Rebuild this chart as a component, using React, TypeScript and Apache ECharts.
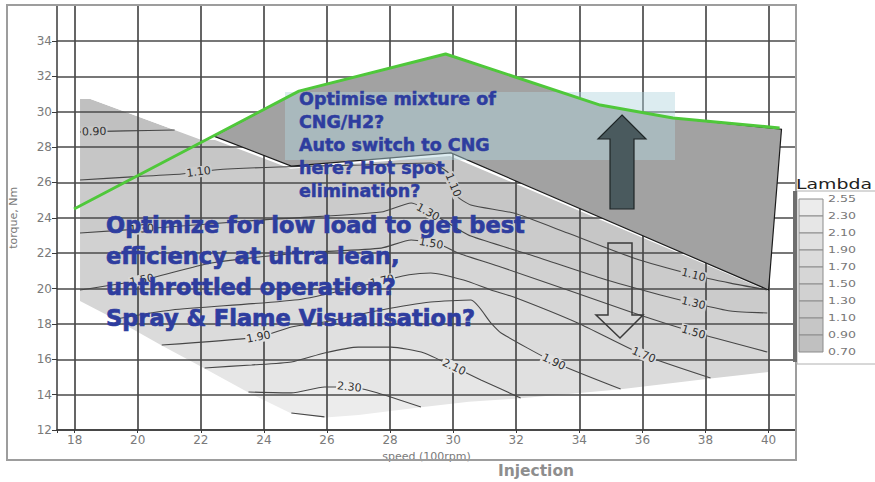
import { useEffect, useRef } from "react";
import * as echarts from "echarts";

// Axis extents: engine speed in 100 rpm, torque in Nm
const SPEED_MIN = 17.44;
const SPEED_MAX = 40.87;
const TORQUE_MIN = 12;
const TORQUE_MAX = 36;

// Lambda levels of the key, lowest first
const lambdaLevels = [0.7, 0.9, 1.1, 1.3, 1.5, 1.7, 1.9, 2.1, 2.3, 2.55];
// Grey of each band between two consecutive levels
const bandShades = ["#c0c0c0", "#c6c6c6", "#cbcbcb", "#d1d1d1", "#d6d6d6", "#dbdbdb", "#e0e0e0", "#e6e6e6", "#ececec"];

// Outline of the measured area, [speed, torque]
const mapUpperEdge = [[18.17, 30.72], [18.5, 30.72], [20.2, 29.6], [22.0, 28.42], [22.45, 28.4], [24.85, 26.78], [29.9, 27.5], [40.0, 19.85]];
const mapLowerEdge = [[18.17, 19.3], [19.3, 18.25], [20.76, 16.78], [22.12, 15.48], [23.51, 14.12], [24.87, 12.93], [25.95, 12.7], [27.0, 12.85], [28.98, 13.28], [30.5, 13.6], [32.14, 13.79], [33.4, 14.0], [35.31, 14.3], [38.16, 14.92], [40.0, 15.28]];

// Iso-lambda lines, [speed, torque]
const iso090 = [[18.17, 28.86], [19.6, 28.92], [21.17, 28.97]];
const iso110 = [[18.17, 26.14], [19.8, 26.32], [21.39, 26.48], [22.44, 26.71], [24.46, 26.88], [27.08, 26.99], [29.29, 27.1], [29.92, 26.42], [30.08, 25.29], [30.56, 24.73], [31.92, 24.27], [33.63, 23.14], [35.72, 21.73], [37.62, 20.77], [38.79, 20.31], [39.96, 19.92]];
const iso130 = [[18.17, 23.14], [20.54, 23.43], [23.92, 23.88], [27.72, 24.33], [28.67, 24.84], [29.78, 23.76], [30.56, 22.97], [32.46, 21.9], [34.67, 20.6], [36.57, 19.64], [37.62, 19.18], [38.79, 18.73], [39.96, 18.62]];
const iso150 = [[18.17, 19.92], [20.13, 20.48], [22.34, 21.45], [25.19, 22.01], [27.72, 22.29], [28.67, 22.75], [29.62, 22.46], [30.15, 22.01], [31.51, 21.22], [33.63, 19.92], [35.63, 18.67], [37.62, 17.54], [39.96, 16.41]];
const iso170 = [[19.3, 18.28], [21.08, 18.79], [25.19, 19.4], [27.8, 20.45], [28.6, 20.78], [29.29, 20.88], [30.33, 20.48], [31.2, 19.92], [31.92, 19.52], [33.95, 18.05], [36.04, 16.24], [38.16, 14.94]];
const iso190 = [[20.76, 16.81], [23.83, 17.26], [24.87, 17.83], [25.92, 18.11], [27.72, 18.79], [29.29, 19.24], [30.56, 19.35], [31.2, 18.05], [31.52, 17.49], [33.19, 15.85], [35.31, 14.32]];
const iso210 = [[22.12, 15.51], [23.61, 15.68], [24.87, 15.85], [25.92, 16.36], [26.99, 16.69], [28.03, 16.69], [29.08, 16.36], [30.03, 15.56], [30.88, 14.83], [32.14, 13.81]];
const iso230 = [[23.51, 14.15], [24.87, 14.1], [25.92, 14.43], [26.71, 14.43], [27.5, 14.15], [28.98, 13.3]];
const iso250 = [[24.87, 12.96], [25.92, 12.74]];

// Where the iso-lines carry their value, [lambda, speed]
const isoLabelSpots = [
  [0.9, 18.62], [1.1, 21.93], [1.1, 30.0], [1.1, 37.62],
  [1.3, 20.13], [1.3, 29.2], [1.3, 37.62],
  [1.5, 20.13], [1.5, 29.3], [1.5, 37.62],
  [1.7, 27.75], [1.7, 36.04],
  [1.9, 23.83], [1.9, 33.19],
  [2.1, 30.03], [2.3, 26.71],
];

// Full-load limit (green) and the high-load region above the lean map
const fullLoadLimit = [[17.98, 24.5], [25.11, 31.17], [29.76, 33.27], [34.66, 30.38], [36.97, 29.65], [40.35, 29.08]];
const highLoadZone = [[22.41, 28.62], [25.11, 31.17], [29.76, 33.27], [34.66, 30.38], [36.97, 29.65], [40.41, 29.01], [40.0, 19.92], [29.93, 27.67], [24.87, 26.93]];

const isoLines = [
  { level: 0.9, points: iso090 },
  { level: 1.1, points: iso110 },
  { level: 1.3, points: iso130 },
  { level: 1.5, points: iso150 },
  { level: 1.7, points: iso170 },
  { level: 1.9, points: iso190 },
  { level: 2.1, points: iso210 },
  { level: 2.3, points: iso230 },
  { level: 2.5, points: iso250 },
];

const TEXT_BLUE = "#2e3d9f";

function torqueOn(points: number[][], speed: number) {
  for (let i = 0; i < points.length - 1; i++) {
    const [x0, y0] = points[i];
    const [x1, y1] = points[i + 1];
    if (speed >= x0 && speed <= x1) return y0 + ((y1 - y0) * (speed - x0)) / (x1 - x0);
  }
  return speed < points[0][0] ? points[0][1] : points[points.length - 1][1];
}

function buildOption() {
  const lo = [SPEED_MIN - 1, TORQUE_MIN - 1];

  // filled lambda bands: each iso-line shades everything on its lean side
  const renderBands = (_p: any, api: any) => {
    const c = (p: number[]) => api.coord(p);
    const outline = [...mapUpperEdge, ...mapLowerEdge.slice().reverse()];
    const children: any[] = [
      { type: "polygon", shape: { points: outline.map(c) }, style: { fill: bandShades[0] } },
    ];
    isoLines.forEach((line) => {
      const idx = lambdaLevels.indexOf(line.level);
      if (idx < 0 || idx >= bandShades.length) return;
      const pts = line.points;
      const first = pts[0];
      const last = pts[pts.length - 1];
      const poly = [
        [SPEED_MIN - 1, lo[1]],
        [SPEED_MIN - 1, first[1]],
        ...pts,
        [SPEED_MAX + 1, last[1]],
        [SPEED_MAX + 1, lo[1]],
      ];
      children.push({ type: "polygon", shape: { points: poly.map(c) }, style: { fill: bandShades[idx] } });
    });
    return { type: "group", children };
  };

  // white outside the measured outline
  const renderMask = (_p: any, api: any) => {
    const c = (p: number[]) => api.coord(p);
    const u0 = mapUpperEdge[0];
    const uN = mapUpperEdge[mapUpperEdge.length - 1];
    const l0 = mapLowerEdge[0];
    const lN = mapLowerEdge[mapLowerEdge.length - 1];
    const top = [[SPEED_MIN - 1, TORQUE_MAX + 1], [SPEED_MIN - 1, u0[1]], ...mapUpperEdge, [SPEED_MAX + 1, uN[1]], [SPEED_MAX + 1, TORQUE_MAX + 1]];
    const bottom = [[SPEED_MIN - 1, TORQUE_MIN - 1], [SPEED_MIN - 1, l0[1]], ...mapLowerEdge, [SPEED_MAX + 1, lN[1]], [SPEED_MAX + 1, TORQUE_MIN - 1]];
    const left = [[SPEED_MIN - 1, TORQUE_MIN - 1], [u0[0], TORQUE_MIN - 1], [u0[0], TORQUE_MAX + 1], [SPEED_MIN - 1, TORQUE_MAX + 1]];
    const right = [[uN[0], TORQUE_MIN - 1], [SPEED_MAX + 1, TORQUE_MIN - 1], [SPEED_MAX + 1, TORQUE_MAX + 1], [uN[0], TORQUE_MAX + 1]];
    return {
      type: "group",
      children: [top, bottom, left, right].map((poly) => ({
        type: "polygon",
        shape: { points: poly.map(c) },
        style: { fill: "#ffffff" },
      })),
    };
  };

  // value labels sitting on the iso-lines, turned along the line
  const renderIsoLabels = (_p: any, api: any) => {
    const children: any[] = [];
    isoLabelSpots.forEach(([level, speed]) => {
      const line = isoLines.find((l) => l.level === level);
      if (!line) return;
      const pos = api.coord([speed, torqueOn(line.points, speed)]);
      const a = api.coord([speed - 0.15, torqueOn(line.points, speed - 0.15)]);
      const b = api.coord([speed + 0.15, torqueOn(line.points, speed + 0.15)]);
      const ang = Math.atan2(b[1] - a[1], b[0] - a[0]);
      const idx = Math.max(0, Math.min(bandShades.length - 1, lambdaLevels.indexOf(level)));
      children.push({
        type: "text",
        x: pos[0],
        y: pos[1],
        rotation: -ang,
        style: {
          text: level.toFixed(2),
          fill: "#2f2f2f",
          font: '11px "DejaVu Sans"',
          align: "center",
          verticalAlign: "middle",
          backgroundColor: bandShades[idx],
          padding: [0, 1],
        },
      });
    });
    return { type: "group", children };
  };

  const renderZone = (_p: any, api: any) => ({
    type: "polygon",
    shape: { points: highLoadZone.map((p) => api.coord(p)) },
    style: { fill: "#a2a2a2", stroke: "#1c1c1c", lineWidth: 1.2 },
  });

  const axisGrey = "#7a7a7a";
  const lineDark = "#3a3a3a";
  const isEven = (v: number) => Math.abs(v - Math.round(v)) < 1e-6 && Math.round(v) % 2 === 0;

  // key for the lambda bands
  const legendTop = 199;
  const rowH = 17;
  const legendEls: any[] = [
    { type: "rect", z: 40, shape: { x: 797, y: 191, width: 80, height: 173 }, style: { fill: "#ffffff", stroke: "#b0b0b0", lineWidth: 1 } },
    { type: "rect", z: 41, shape: { x: 793, y: 191, width: 4, height: 171 }, style: { fill: "#6e6e6e" } },
    { type: "text", z: 41, x: 796, y: 184, scaleX: 1.35, style: { text: "Lambda", fill: "#222222", font: '14px "DejaVu Sans"', align: "left", verticalAlign: "middle" } },
  ];
  for (let r = 0; r < bandShades.length; r++) {
    const band = bandShades.length - 1 - r;
    legendEls.push({
      type: "rect",
      z: 41,
      shape: { x: 799, y: legendTop + r * rowH, width: 24, height: rowH },
      style: { fill: bandShades[band], stroke: "#8c8c8c", lineWidth: 1 },
    });
  }
  for (let r = 0; r < lambdaLevels.length; r++) {
    const lvl = lambdaLevels[lambdaLevels.length - 1 - r];
    legendEls.push({
      type: "text",
      z: 41,
      x: 828,
      y: legendTop + r * rowH,
      scaleX: 1.4,
      style: { text: lvl.toFixed(2), fill: "#777777", font: '9px "DejaVu Sans"', align: "left", verticalAlign: "middle" },
    });
  }

  return {
    animation: false,
    grid: { left: 55, right: 79, top: 5.7, bottom: 52, containLabel: false },
    xAxis: {
      type: "value",
      min: SPEED_MIN,
      max: SPEED_MAX,
      splitNumber: 12,
      minInterval: 2,
      maxInterval: 2,
      z: 3,
      axisLine: { show: true, lineStyle: { color: lineDark, width: 1.5 } },
      axisTick: { show: true, length: 3, lineStyle: { color: lineDark } },
      axisLabel: {
        color: axisGrey,
        fontSize: 12,
        fontFamily: "DejaVu Sans",
        margin: 4,
        formatter: (v: number) => (isEven(v) ? String(Math.round(v)) : ""),
      },
      splitLine: { show: true, showMinLine: false, showMaxLine: false, lineStyle: { color: "#4a4a4a", width: 1.7 } },
      name: "speed (100rpm)",
      nameLocation: "middle",
      nameGap: 13,
      nameTextStyle: { color: axisGrey, fontSize: 11, fontFamily: "DejaVu Sans" },
    },
    yAxis: {
      type: "value",
      min: TORQUE_MIN,
      max: TORQUE_MAX,
      interval: 2,
      z: 3,
      axisLine: { show: true, lineStyle: { color: lineDark, width: 1.5 } },
      axisTick: { show: true, length: 5, lineStyle: { color: lineDark } },
      axisLabel: {
        color: axisGrey,
        fontSize: 12,
        fontFamily: "DejaVu Sans",
        margin: 5,
        formatter: (v: number) => (v >= TORQUE_MAX ? "" : String(v)),
      },
      splitLine: { show: true, showMaxLine: false, lineStyle: { color: "#4a4a4a", width: 1.7 } },
      name: "torque, Nm",
      nameLocation: "middle",
      nameGap: 38,
      nameRotate: 90,
      nameTextStyle: { color: axisGrey, fontSize: 11, fontFamily: "DejaVu Sans" },
    },
    series: [
      { type: "custom", name: "bands", z: 1, clip: true, silent: true, renderItem: renderBands, data: [[SPEED_MIN, TORQUE_MIN]] },
      { type: "custom", name: "outside", z: 2, clip: true, silent: true, renderItem: renderMask, data: [[SPEED_MIN, TORQUE_MIN]] },
      ...isoLines.map((l) => ({
        type: "line",
        name: "lambda " + l.level.toFixed(2),
        z: 4,
        silent: true,
        showSymbol: false,
        smooth: 0.2,
        data: l.points,
        lineStyle: { color: "#474747", width: 1.1 },
      })),
      { type: "custom", name: "iso labels", z: 5, clip: true, silent: true, renderItem: renderIsoLabels, data: [[SPEED_MIN, TORQUE_MIN]] },
      { type: "custom", name: "high load", z: 6, clip: false, silent: true, renderItem: renderZone, data: [[SPEED_MIN, TORQUE_MIN]] },
      {
        type: "line",
        name: "full load",
        z: 9,
        silent: true,
        showSymbol: false,
        data: fullLoadLimit,
        lineStyle: { color: "#4fc83a", width: 3 },
      },
    ],
    graphic: [
      { type: "rect", z: 8, shape: { x: 285, y: 92, width: 390, height: 68 }, style: { fill: "rgba(178,212,222,0.45)" } },
      {
        type: "polygon",
        z: 20,
        shape: { points: [[622, 115], [646, 139], [634, 139], [634, 209], [610, 209], [610, 139], [598, 139]] },
        style: { fill: "#4a5a5e", stroke: "#1e2526", lineWidth: 1.2 },
      },
      {
        type: "polygon",
        z: 20,
        shape: { points: [[608, 243], [632, 243], [632, 315], [643, 315], [620, 338], [596, 315], [608, 315]] },
        style: { fill: "none", stroke: "#3a3a3a", lineWidth: 1.5 },
      },
      {
        type: "text",
        z: 21,
        x: 299,
        y: 87,
        style: {
          text: "Optimise mixture of\nCNG/H2?\nAuto switch to CNG\nhere? Hot spot\nelimination?",
          fill: TEXT_BLUE,
          stroke: TEXT_BLUE,
          lineWidth: 0.5,
          font: 'bold 17.5px "DejaVu Sans"',
          lineHeight: 23,
          align: "left",
          verticalAlign: "top",
        },
      },
      {
        type: "text",
        z: 21,
        x: 106,
        y: 209,
        style: {
          text: "Optimize for low load to get best\nefficiency at ultra lean,\nunthrottled operation?\nSpray & Flame Visualisation?",
          fill: TEXT_BLUE,
          stroke: TEXT_BLUE,
          lineWidth: 0.7,
          font: 'bold 22.5px "DejaVu Sans"',
          lineHeight: 31,
          align: "left",
          verticalAlign: "top",
        },
      },
      {
        type: "text",
        z: 21,
        x: 536,
        y: 471,
        style: { text: "Injection", fill: "#8e8e8e", font: 'bold 15.5px "DejaVu Sans"', align: "center", verticalAlign: "middle" },
      },
      { type: "rect", z: 30, shape: { x: 7, y: 5, width: 789, height: 455 }, style: { fill: "none", stroke: "#9d9d9d", lineWidth: 2 } },
      ...legendEls,
    ],
  };
}

export default function App() {
  const ref = useRef<HTMLDivElement>(null);
  useEffect(() => {
    if (!ref.current) return;
    const chart = echarts.init(ref.current, undefined, { renderer: "svg" });
    chart.setOption(buildOption() as any);
    return () => chart.dispose();
  }, []);
  return (
    <div
      ref={ref}
      style={{ position: "fixed", left: 0, top: 0, width: 875, height: 482, background: "#ffffff" }}
    />
  );
}
